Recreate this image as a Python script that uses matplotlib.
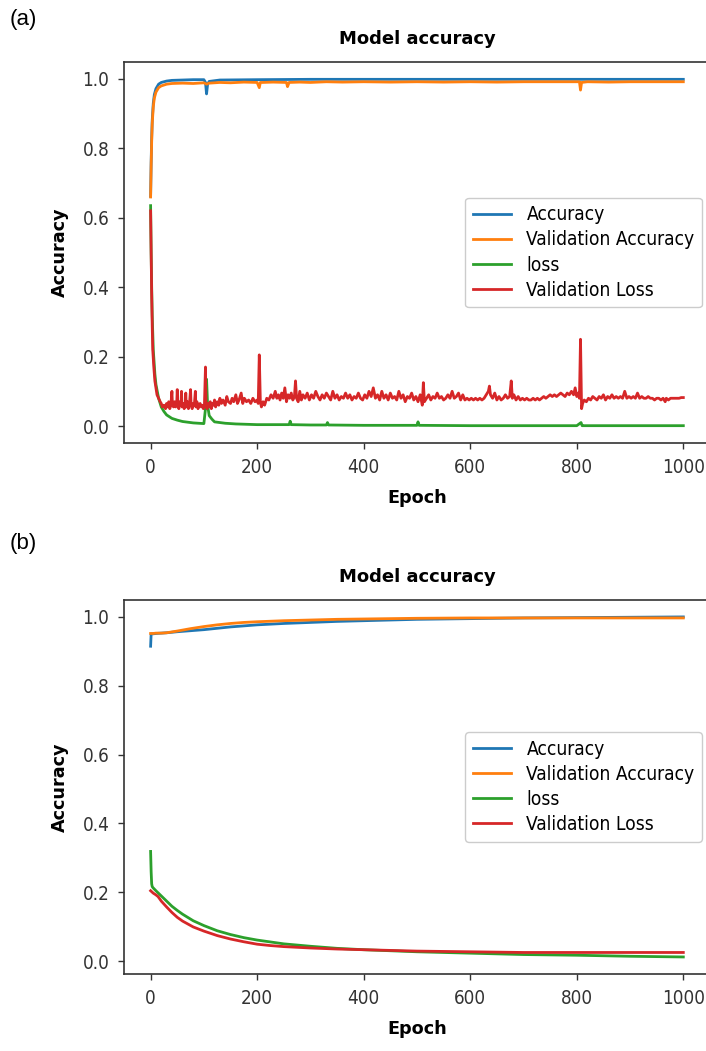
import matplotlib
matplotlib.use("Agg")
import matplotlib.pyplot as plt

plt.rcParams['font.family'] = ['DejaVu Sans']
plt.rcParams['font.stretch'] = 'condensed'

# ---------------- Panel (a) data ----------------
a_acc_ep = [0, 1, 2, 3, 5, 7, 10, 15, 20, 30, 40, 60, 80, 100, 103, 105, 107, 110, 130,
            200, 300, 400, 500, 600, 700, 800, 900, 1000]
a_acc = [0.662, 0.76, 0.83, 0.88, 0.93, 0.955, 0.972, 0.985, 0.99, 0.994, 0.996, 0.997, 0.998,
         0.998, 0.99, 0.957, 0.985, 0.993, 0.997, 0.998, 0.999, 0.999, 0.999, 0.999, 0.999,
         0.999, 0.999, 0.999]

a_vacc_ep = [0, 1, 2, 3, 5, 7, 10, 15, 20, 30, 40, 60, 80, 100, 105, 110, 130, 150, 175, 200,
             204, 206, 210, 230, 255, 257, 260, 280, 300, 330, 360, 400, 450, 500, 550, 600,
             650, 700, 750, 805, 807, 809, 820, 860, 900, 950, 1000]
a_vacc = [0.66, 0.75, 0.82, 0.87, 0.92, 0.945, 0.962, 0.975, 0.98, 0.985, 0.987, 0.988, 0.987,
          0.989, 0.985, 0.988, 0.99, 0.989, 0.991, 0.99, 0.975, 0.99, 0.99, 0.991, 0.99, 0.978,
          0.99, 0.991, 0.99, 0.992, 0.991, 0.992, 0.991, 0.992, 0.991, 0.992, 0.991, 0.992,
          0.992, 0.992, 0.968, 0.99, 0.992, 0.991, 0.992, 0.992, 0.992]

a_loss_ep = [0, 1, 2, 3, 5, 8, 10, 15, 20, 25, 30, 40, 50, 60, 70, 80, 90, 100, 103, 105, 107,
             110, 115, 120, 140, 160, 180, 200, 260, 262, 264, 300, 330, 332, 334, 400, 500,
             502, 504, 600, 800, 808, 810, 812, 1000]
a_loss = [0.635, 0.5, 0.4, 0.32, 0.22, 0.15, 0.12, 0.08, 0.055, 0.042, 0.032, 0.022, 0.017,
          0.013, 0.011, 0.009, 0.008, 0.007, 0.05, 0.135, 0.06, 0.03, 0.02, 0.012, 0.008, 0.006,
          0.005, 0.004, 0.004, 0.014, 0.004, 0.003, 0.003, 0.01, 0.003, 0.002, 0.002, 0.012,
          0.002, 0.001, 0.001, 0.01, 0.001, 0.001, 0.001]

a_vloss_ep = [0, 1, 2, 3, 4, 6, 8, 10, 12, 15, 18, 20, 22, 25, 28, 30, 32, 34, 36, 38, 40, 41,
              43, 45, 47, 49, 50, 51, 53, 55, 57, 58, 59, 61, 63, 65, 66, 67, 69, 71, 73, 75, 76,
              78, 80, 82, 84, 85, 87, 89, 91, 93, 95, 97, 99, 101, 103, 104, 106, 108, 110, 112,
              114, 116, 118, 120, 122, 125, 128, 130, 133, 136, 140, 143, 146, 150, 153, 156,
              160, 163, 166, 170, 173, 176, 180, 184, 188, 192, 196, 200, 202, 204, 206, 208,
              211, 214, 218, 222, 226, 230, 234, 237, 240, 243, 246, 249, 252, 255, 258, 261,
              264, 267, 270, 272, 274, 277, 280, 283, 286, 290, 294, 298, 302, 306, 310, 314,
              318, 322, 326, 330, 334, 338, 342, 346, 350, 354, 358, 362, 366, 370, 374, 378,
              382, 386, 390, 394, 398, 402, 406, 410, 414, 418, 422, 426, 430, 434, 438, 442,
              446, 450, 454, 458, 462, 466, 470, 474, 478, 482, 486, 490, 494, 498, 502, 506,
              510, 512, 514, 518, 522, 526, 530, 534, 538, 542, 546, 550, 554, 558, 562, 566,
              570, 574, 578, 582, 586, 590, 594, 598, 602, 606, 610, 614, 618, 622, 626, 630,
              634, 636, 638, 642, 646, 650, 654, 658, 662, 666, 670, 674, 677, 679, 682, 686,
              690, 694, 698, 702, 706, 710, 714, 718, 722, 726, 730, 734, 738, 742, 746, 750,
              754, 758, 762, 766, 770, 774, 778, 782, 786, 790, 794, 797, 800, 803, 805, 807,
              809, 811, 814, 818, 822, 826, 830, 834, 838, 842, 846, 850, 854, 858, 862, 866,
              870, 874, 878, 882, 886, 890, 894, 898, 902, 906, 910, 914, 918, 922, 926, 930,
              934, 938, 942, 946, 950, 954, 958, 962, 966, 968, 972, 976, 980, 984, 988, 992,
              996, 1000]
a_vloss = [0.62, 0.5, 0.38, 0.29, 0.22, 0.17, 0.13, 0.11, 0.09, 0.08, 0.07, 0.065, 0.055, 0.06,
           0.05, 0.065, 0.055, 0.07, 0.05, 0.06, 0.1, 0.06, 0.055, 0.07, 0.055, 0.065, 0.105,
           0.06, 0.05, 0.07, 0.06, 0.1, 0.055, 0.065, 0.05, 0.06, 0.095, 0.055, 0.07, 0.05,
           0.065, 0.105, 0.06, 0.05, 0.065, 0.06, 0.1, 0.055, 0.07, 0.05, 0.06, 0.065, 0.055,
           0.06, 0.05, 0.06, 0.17, 0.06, 0.05, 0.065, 0.055, 0.07, 0.05, 0.065, 0.06, 0.075,
           0.055, 0.07, 0.06, 0.08, 0.065, 0.075, 0.06, 0.085, 0.07, 0.065, 0.08, 0.07, 0.09,
           0.065, 0.075, 0.095, 0.065, 0.08, 0.07, 0.075, 0.065, 0.08, 0.07, 0.075, 0.065, 0.205,
           0.07, 0.055, 0.07, 0.06, 0.08, 0.075, 0.09, 0.08, 0.1, 0.08, 0.09, 0.075, 0.095, 0.08,
           0.11, 0.07, 0.09, 0.08, 0.095, 0.075, 0.085, 0.13, 0.08, 0.07, 0.1, 0.075, 0.09, 0.08,
           0.095, 0.075, 0.09, 0.08, 0.1, 0.085, 0.075, 0.09, 0.08, 0.095, 0.085, 0.075, 0.1,
           0.08, 0.09, 0.075, 0.085, 0.08, 0.095, 0.08, 0.09, 0.075, 0.085, 0.08, 0.095, 0.08,
           0.075, 0.09, 0.08, 0.1, 0.085, 0.11, 0.08, 0.09, 0.075, 0.1, 0.08, 0.09, 0.075, 0.095,
           0.08, 0.085, 0.075, 0.1, 0.08, 0.09, 0.07, 0.085, 0.08, 0.095, 0.075, 0.085, 0.07,
           0.09, 0.06, 0.125, 0.07, 0.08, 0.09, 0.075, 0.085, 0.08, 0.095, 0.08, 0.085, 0.075,
           0.08, 0.09, 0.08, 0.1, 0.08, 0.085, 0.095, 0.075, 0.09, 0.075, 0.08, 0.075, 0.08,
           0.075, 0.08, 0.075, 0.08, 0.075, 0.08, 0.09, 0.1, 0.115, 0.09, 0.08, 0.095, 0.075,
           0.085, 0.075, 0.08, 0.09, 0.08, 0.085, 0.13, 0.08, 0.09, 0.075, 0.085, 0.075, 0.08,
           0.075, 0.08, 0.075, 0.075, 0.08, 0.075, 0.08, 0.075, 0.08, 0.085, 0.08, 0.085, 0.09,
           0.085, 0.09, 0.085, 0.09, 0.095, 0.09, 0.085, 0.095, 0.09, 0.1, 0.09, 0.11, 0.085,
           0.095, 0.08, 0.25, 0.05, 0.065, 0.075, 0.07, 0.08, 0.075, 0.085, 0.08, 0.075, 0.085,
           0.08, 0.09, 0.075, 0.085, 0.08, 0.09, 0.08, 0.085, 0.08, 0.085, 0.08, 0.1, 0.08,
           0.085, 0.08, 0.085, 0.08, 0.095, 0.08, 0.085, 0.08, 0.08, 0.085, 0.08, 0.08, 0.075,
           0.08, 0.08, 0.075, 0.08, 0.07, 0.08, 0.075, 0.08, 0.08, 0.08, 0.08, 0.08, 0.082, 0.082]

# ---------------- Panel (b) data ----------------
b_acc_ep = [0, 1, 5, 10, 20, 30, 50, 75, 100, 125, 150, 175, 200, 250, 300, 350, 400, 450, 500,
            600, 700, 800, 900, 1000]
b_acc = [0.914, 0.950, 0.950, 0.951, 0.952, 0.953, 0.956, 0.959, 0.962, 0.966, 0.970, 0.973,
         0.976, 0.980, 0.983, 0.986, 0.988, 0.990, 0.992, 0.994, 0.996, 0.997, 0.998, 0.999]

b_vacc_ep = [0, 5, 10, 20, 30, 50, 75, 100, 125, 150, 175, 200, 250, 300, 350, 400, 450, 500,
             600, 700, 800, 900, 1000]
b_vacc = [0.951, 0.951, 0.952, 0.952, 0.953, 0.958, 0.965, 0.971, 0.976, 0.980, 0.983, 0.985,
          0.988, 0.990, 0.992, 0.993, 0.994, 0.995, 0.996, 0.996, 0.996, 0.996, 0.996]

b_loss_ep = [0, 1, 2, 3, 5, 10, 20, 30, 40, 50, 60, 80, 100, 125, 150, 175, 200, 250, 300, 350,
             400, 450, 500, 600, 700, 800, 900, 1000]
b_loss = [0.319, 0.26, 0.225, 0.217, 0.213, 0.205, 0.19, 0.175, 0.16, 0.148, 0.137, 0.118,
          0.104, 0.089, 0.078, 0.069, 0.062, 0.051, 0.044, 0.038, 0.034, 0.031, 0.028, 0.024,
          0.02, 0.018, 0.015, 0.013]

b_vloss_ep = [0, 5, 10, 14, 20, 30, 40, 50, 60, 80, 100, 125, 150, 175, 200, 225, 250, 275,
              300, 350, 400, 450, 500, 550, 600, 650, 700, 800, 900, 1000]
b_vloss = [0.205, 0.198, 0.193, 0.188, 0.175, 0.158, 0.142, 0.128, 0.117, 0.1, 0.088, 0.075,
           0.065, 0.057, 0.05, 0.046, 0.043, 0.041, 0.039, 0.036, 0.034, 0.032, 0.03, 0.029,
           0.028, 0.027, 0.026, 0.026, 0.026, 0.026]

labels = ["Accuracy", "Validation Accuracy", "loss", "Validation Loss"]
colors = ["#1f77b4", "#ff7f0e", "#2ca02c", "#d62728"]

fig = plt.figure(figsize=(7.06, 10.51), dpi=100)
ax1 = fig.add_axes([0.1756, 0.5785, 0.830, 0.3625])
ax2 = fig.add_axes([0.1756, 0.0733, 0.830, 0.3559])

panels = [
    (ax1, [(a_acc_ep, a_acc), (a_vacc_ep, a_vacc), (a_loss_ep, a_loss), (a_vloss_ep, a_vloss)]),
    (ax2, [(b_acc_ep, b_acc), (b_vacc_ep, b_vacc), (b_loss_ep, b_loss), (b_vloss_ep, b_vloss)]),
]

for ax, series in panels:
    for (xs, ys), lab, col in zip(series, labels, colors):
        ax.plot(xs, ys, color=col, lw=2.0, label=lab)
    ax.set_title("Model accuracy", fontsize=13, fontweight='bold', fontstretch='normal', pad=13)
    ax.set_xlabel("Epoch", fontsize=12.7, fontweight='bold', fontstretch='normal', labelpad=9)
    ax.set_ylabel("Accuracy", fontsize=12.7, fontweight='bold', fontstretch='normal', labelpad=10)
    ax.set_xticks([0, 200, 400, 600, 800, 1000])
    ax.set_yticks([0.0, 0.2, 0.4, 0.6, 0.8, 1.0])
    ax.tick_params(labelsize=13.5, colors='#333333', length=4.5, width=1.0, pad=6)
    ax.spines['right'].set_visible(False)
    for sp in ax.spines.values():
        sp.set_color('#333333')
        sp.set_linewidth(1.2)
    leg = ax.legend(loc='center right', fontsize=13.8, framealpha=1.0, edgecolor='#cccccc',
                    labelspacing=0.32, borderaxespad=0.4)

fig.text(10 / 706, 1 - 19 / 1051, "(a)", fontsize=16, va='center', ha='left',
         family='Liberation Sans', fontstretch='normal')
fig.text(10 / 706, 1 - 543 / 1051, "(b)", fontsize=16, va='center', ha='left',
         family='Liberation Sans', fontstretch='normal')

fig.savefig("out.png", dpi=100)
